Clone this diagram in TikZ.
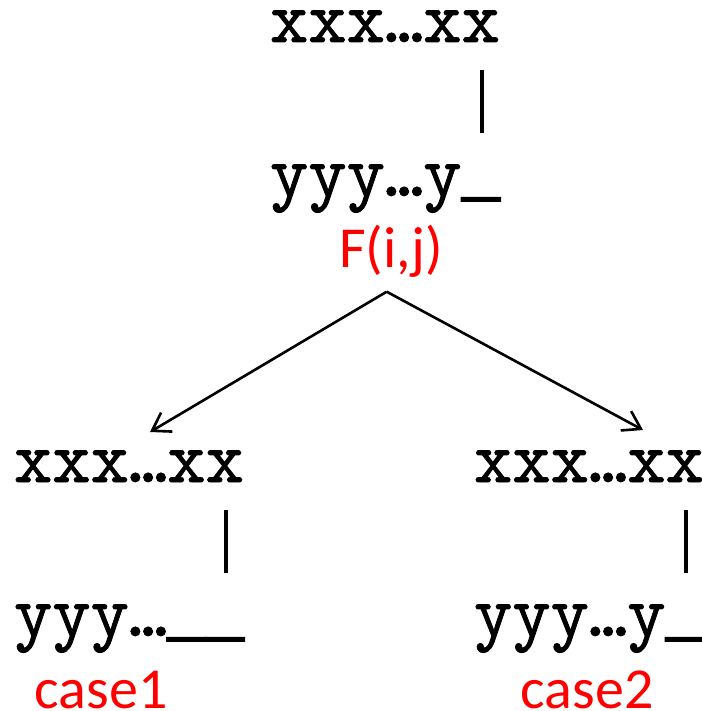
\documentclass[tikz,border=0pt]{standalone}
\usepackage{fontspec}
\newfontfamily\redfont{Carlito}
\newfontfamily\mymono{lmmono10-regular.otf}[FakeBold=1.2]
\newfontfamily\undfont{Liberation Mono}[FakeBold=3]
\newcommand{\us}{{\undfont\fontsize{64}{64}\selectfont\raisebox{2pt}{\_}}}
\usetikzlibrary{arrows.meta}
\begin{document}
\begin{tikzpicture}[x=1pt,y=1pt,
  mono/.style={inner sep=0pt,outer sep=0pt,anchor=base west,font=\fontsize{73}{73}\selectfont\mymono},
  redlbl/.style={inner sep=0pt,outer sep=0pt,anchor=base,text=red,font=\fontsize{58}{58}\selectfont\redfont},
  bar/.style={line width=4pt},
  arr/.style={line width=2.6pt,-{Straight Barb[length=17pt,width=22pt,line width=2.6pt]}}]
\useasboundingbox (0,0) rectangle (701,-711);
% top
\node[mono] (tx) at (270,-42) {xxx…xx};
\node[mono] (ty) at (270,-196) {yyy…y\us};
\node[redlbl] (F) at (391,-267) {F(i,j)};
\coordinate (b1t) at (482,-70);
\coordinate (b1b) at (482,-133);
\draw[bar] (b1t) -- (b1b);
% bottom left
\node[mono] (lx) at (14,-482) {xxx…xx};
\node[mono] (ly) at (14,-636) {yyy…\us\us};
\node[redlbl] (c1) at (101,-708) {case1};
\coordinate (b2t) at (226,-510);
\coordinate (b2b) at (226,-573);
\draw[bar] (b2t) -- (b2b);
% bottom right
\node[mono] (rx) at (474,-482) {xxx…xx};
\node[mono] (ry) at (474,-636) {yyy…y\us};
\node[redlbl] (c2) at (587,-708) {case2};
\coordinate (b3t) at (686,-510);
\coordinate (b3b) at (686,-573);
\draw[bar] (b3t) -- (b3b);
% arrows
\coordinate (apex) at (386.7,-291.7);
\coordinate (tipl) at (150,-432);
\coordinate (tipr) at (643,-430);
\draw[arr] (apex) -- (tipl);
\draw[arr] (apex) -- (tipr);
\end{tikzpicture}
\end{document}
